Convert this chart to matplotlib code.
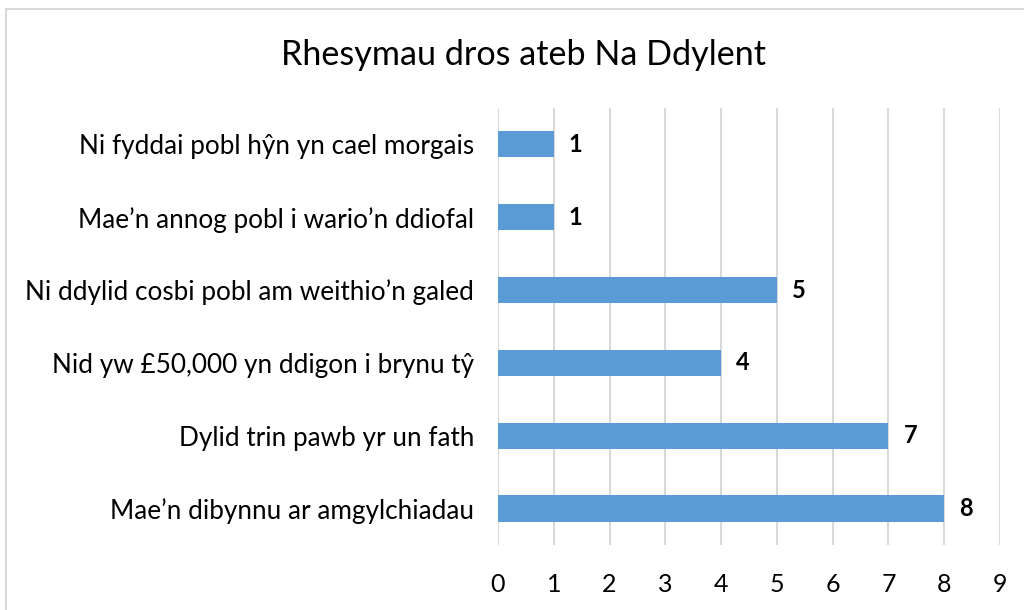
import matplotlib.pyplot as plt
from matplotlib.patches import Rectangle

categories = [
    "Mae\u2019n dibynnu ar amgylchiadau",
    "Dylid trin pawb yr un fath",
    "Nid yw \u00a350,000 yn ddigon i brynu t\u0177",
    "Ni ddylid cosbi pobl am weithio\u2019n galed",
    "Mae\u2019n annog pobl i wario\u2019n ddiofal",
    "Ni fyddai pobl h\u0177n yn cael morgais",
]
counts = [8, 7, 4, 5, 1, 1]
x_ticks = list(range(0, 10))
title = "Rhesymau dros ateb Na Ddylent"

plt.rcParams['font.family'] = ['Lato', 'DejaVu Sans']

fig = plt.figure(figsize=(10.24, 6.10), dpi=100)
fig.patch.set_facecolor('white')
fig.patches.append(Rectangle((0.006, -0.01), 1.2, 0.996, transform=fig.transFigure,
                             fill=False, edgecolor='#d9d9d9', linewidth=1.5))

ax = fig.add_axes([0.4863, 0.1066, 0.4903, 0.7164])
y = list(range(len(categories)))
ax.barh(y, counts, height=0.36, color='#5B9BD5', zorder=3)
for yi, v in zip(y, counts):
    ax.text(v + 0.27, yi, str(v), va='center', ha='left', fontsize=17,
            fontweight='bold', color='#000000')

ax.set_xlim(0, 9)
ax.set_ylim(-0.5, len(categories) - 0.5)
ax.set_xticks(x_ticks)
ax.set_xticklabels([str(t) for t in x_ticks], fontsize=18, color='#000000')
ax.set_yticks(y)
ax.set_yticklabels(categories, fontsize=18.8, color='#000000')
ax.tick_params(axis='both', length=0)
ax.tick_params(axis='x', pad=20)
ax.tick_params(axis='y', pad=17)
ax.xaxis.grid(True, color='#d9d9d9', linewidth=1.5, zorder=0)
for s in ax.spines.values():
    s.set_visible(False)

fig.text(0.5117, 0.91, title, ha='center', va='center', fontsize=24.6, color='#000000')

fig.savefig('out.png', dpi=100, facecolor='white')
